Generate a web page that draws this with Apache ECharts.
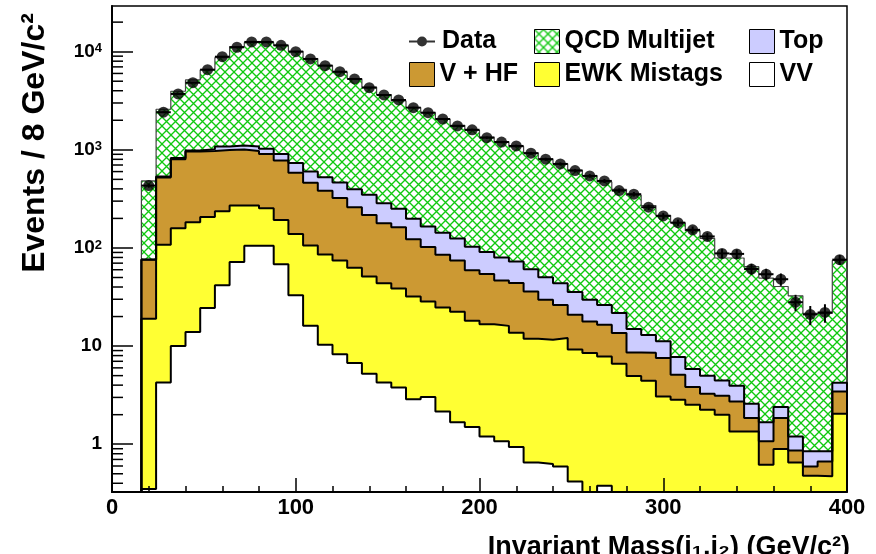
<!DOCTYPE html>
<html>
<head>
<meta charset="utf-8">
<script src="https://cdn.jsdelivr.net/npm/echarts@6/dist/echarts.min.js"></script>
<style>
  html, body { margin: 0; padding: 0; background: #ffffff; }
  #chart { width: 876px; height: 554px; }
</style>
</head>
<body>
<div id="chart"></div>
<script>
// Dijet invariant mass, 8 GeV/c^2 bins from 16 to 400 GeV/c^2
const binLow  = [16, 24, 32, 40, 48, 56, 64, 72, 80, 88, 96, 104, 112, 120, 128, 136,
                 144, 152, 160, 168, 176, 184, 192, 200, 208, 216, 224, 232, 240, 248, 256, 264,
                 272, 280, 288, 296, 304, 312, 320, 328, 336, 344, 352, 360, 368, 376, 384, 392];
const binHigh = [24, 32, 40, 48, 56, 64, 72, 80, 88, 96, 104, 112, 120, 128, 136, 144,
                 152, 160, 168, 176, 184, 192, 200, 208, 216, 224, 232, 240, 248, 256, 264, 272,
                 280, 288, 296, 304, 312, 320, 328, 336, 344, 352, 360, 368, 376, 384, 392, 400];

// Observed events and their statistical uncertainties
const dataCounts = [432, 2415, 3710, 4830, 6560, 8890, 11090, 12570, 12570, 11620, 10000, 8430, 7200, 6250, 5270, 4300,
                    3620, 3220, 2690, 2390, 2060, 1750, 1600, 1330, 1200, 1095, 923, 802, 718, 614, 542, 482,
                    384, 353, 260, 212, 181, 153, 131, 88, 87, 61, 54, 48, 28, 21, 22, 76];
const dataErrors = [20.8, 49.1, 60.9, 69.5, 81.0, 94.3, 105.3, 112.1, 112.1, 107.8, 100, 91.8, 84.9, 79.1, 72.6, 65.6,
                    60.2, 56.7, 51.9, 48.9, 45.4, 41.8, 40, 36.5, 34.6, 33.1, 30.4, 28.3, 26.8, 24.8, 23.3, 22.0,
                    19.6, 18.8, 16.1, 14.6, 13.5, 12.4, 11.4, 9.4, 9.3, 7.8, 7.3, 6.9, 5.3, 4.6, 4.7, 8.7];

// Expected yields per process (stacked bottom to top: VV, EWK, V+HF, Top, QCD)
const yieldVV  = [0.35, 4.26, 10.0, 13.9, 24.5, 41.8, 72.1, 105, 105, 68.4, 33.0, 16.1, 10.3, 8.28, 6.71, 5.22,
                  4.26, 3.79, 2.88, 3.03, 2.16, 1.67, 1.50, 1.20, 1.07, 0.935, 0.653, 0.629, 0.594, 0.418, 0, 0.378,
                  0, 0, 0, 0, 0, 0, 0, 0, 0, 0, 0, 0, 0, 0, 0, 0];
const yieldEWK = [18.6, 103.7, 149, 169.1, 182.5, 195.2, 198.9, 166, 149, 124.6, 106, 89.9, 75.3, 66.2, 56.0, 45.9,
                  39.5, 34.8, 29.1, 25.5, 22.5, 20.7, 16.6, 15.5, 15.0, 12.7, 11.2, 11.0, 11.5, 8.81, 8.49, 7.45,
                  6.60, 4.95, 4.43, 3.07, 2.84, 2.52, 2.24, 2.00, 1.35, 1.35, 0.618, 0.893, 0.653, 0.478, 0.473, 2.05];
const yieldVHF = [56.7, 413, 643, 777, 768, 761, 734, 704, 654, 583, 446, 357, 298, 248, 197, 166,
                  135, 124, 91, 73.5, 60.4, 52.1, 41.3, 37.5, 30.5, 30.2, 24.1, 18.0, 14.2, 11.6, 9.31, 8.67,
                  7.0, 3.66, 4.12, 4.48, 2.27, 1.30, 1.03, 1.12, 1.38, 0.50, 0.452, 0.957, 0.212, 0.116, 0.195, 1.40];
const yieldTop = [0.8, 14, 24, 22, 39, 82, 99, 105, 120, 132, 150, 137, 142, 141, 137, 131,
                  107, 89, 76, 63, 57.9, 50.5, 43.6, 36.6, 33.2, 28.8, 24.8, 20.8, 17.5, 14.7, 11.8, 9.8,
                  8.1, 6.29, 4.45, 3.65, 2.62, 2.01, 1.72, 1.35, 1.22, 0.73, 0.60, 0.54, 0.335, 0.255, 0.178, 0.78];
const yieldQCD = [405, 2055, 3124, 4168, 5506, 7610, 10146, 11270, 11322, 10592, 9365, 7900, 6724, 5737, 4903, 4002,
                  3364, 2898, 2501, 2215, 1907, 1655, 1477, 1259, 1130, 1007, 869, 760, 676, 585, 515, 444,
                  373, 330, 257, 204, 172, 144, 120, 74.5, 75.0, 61.9, 47.6, 38.1, 31.3, 20.7, 20.7, 70.3];

// Axis ranges, tick labels and titles
const X_MIN = 0, X_MAX = 400;
const Y_MIN = 0.326, Y_MAX = 29200;
const xTickLabels = ['0', '100', '200', '300', '400'];
const xTitle = 'Invariant Mass(j\u2081,j\u2082) (GeV/c\u00b2)';
const yTitle = 'Events / 8 GeV/c\u00b2';

const FONT = '"Liberation Sans", Arial, Helvetica, sans-serif';

// Green cross-hatch used for the QCD multijet component
const hatch = document.createElement('canvas');
hatch.width = 9; hatch.height = 9;
(function () {
  const g = hatch.getContext('2d');
  g.strokeStyle = '#10c810';
  g.lineWidth = 1.35;
  g.beginPath();
  g.moveTo(-1, -1); g.lineTo(10, 10);
  g.moveTo(10, -1); g.lineTo(-1, 10);
  g.stroke();
})();
const hatchFill = { image: hatch, repeat: 'repeat' };

const layers = [
  { name: 'VV',           values: yieldVV,  fill: '#ffffff', stroke: '#000000', width: 2 },
  { name: 'EWK Mistags',  values: yieldEWK, fill: '#ffff33', stroke: '#000000', width: 2 },
  { name: 'V + HF',       values: yieldVHF, fill: '#cc9933', stroke: '#000000', width: 2 },
  { name: 'Top',          values: yieldTop, fill: '#ccccff', stroke: '#000000', width: 2 },
  { name: 'QCD Multijet', values: yieldQCD, fill: hatchFill, stroke: '#444444', width: 1.2 }
];

// Running sums: each layer is drawn as the cumulative histogram from the axis floor
let running = binLow.map(() => 0);
layers.forEach(l => {
  running = running.map((r, i) => r + l.values[i]);
  l.cum = running;
});

const floorOf = v => Math.max(v, Y_MIN);

function stepSeries(layer) {
  const pts = [[binLow[0], Y_MIN]];
  binLow.forEach((x, i) => pts.push([x, floorOf(layer.cum[i])]));
  const last = binLow.length - 1;
  pts.push([binHigh[last], floorOf(layer.cum[last])]);
  pts.push([binHigh[last], Y_MIN]);
  return {
    name: layer.name,
    type: 'line',
    step: 'end',
    data: pts,
    symbol: 'none',
    silent: true,
    z: 2,
    itemStyle: { color: layer.fill },
    lineStyle: { color: layer.stroke, width: layer.width },
    areaStyle: { color: layer.fill, opacity: 1, origin: 'start' }
  };
}

// Stacked histograms drawn from the largest sum down
const histSeries = layers.slice().reverse().map(stepSeries);

// Minor ticks of the log axis (2..9 per decade)
const yMinorTicks = [];
for (let e = -1; e <= 4; e++) {
  for (let m = 2; m <= 9; m++) {
    const v = m * Math.pow(10, e);
    if (v > Y_MIN && v < Y_MAX) yMinorTicks.push([X_MIN, v]);
  }
}

const errorSeries = {
  name: 'Data errors',
  type: 'custom',
  z: 4,
  silent: true,
  encode: { x: [0, 1, 2], y: [3] },
  data: binLow.map((lo, i) => [lo, binHigh[i], (lo + binHigh[i]) / 2, dataCounts[i], dataErrors[i]]),
  renderItem: function (params, api) {
    const lo = api.value(0), hi = api.value(1), xc = api.value(2), y = api.value(3), err = api.value(4);
    const a = api.coord([lo, y]), b = api.coord([hi, y]);
    const up = api.coord([xc, y + err]), dn = api.coord([xc, Math.max(y - err, Y_MIN)]);
    const style = { stroke: '#000', lineWidth: 2 };
    return {
      type: 'group',
      children: [
        { type: 'line', shape: { x1: a[0], y1: a[1], x2: b[0], y2: b[1] }, style },
        { type: 'line', shape: { x1: up[0], y1: up[1], x2: dn[0], y2: dn[1] }, style }
      ]
    };
  }
};

const dataSeries = {
  name: 'Data',
  type: 'scatter',
  z: 5,
  symbol: 'circle',
  symbolSize: 11,
  itemStyle: { color: '#000000' },
  data: binLow.map((lo, i) => [(lo + binHigh[i]) / 2, dataCounts[i]])
};

const minorTickSeries = {
  name: 'minor ticks',
  type: 'custom',
  z: 6,
  silent: true,
  encode: { x: 0, y: 1 },
  data: yMinorTicks,
  renderItem: function (params, api) {
    const p = api.coord([api.value(0), api.value(1)]);
    return { type: 'line', shape: { x1: p[0], y1: p[1], x2: p[0] + 11, y2: p[1] },
             style: { stroke: '#000', lineWidth: 1.5 } };
  }
};

const legendText = { fontFamily: FONT, fontWeight: 'bold', fontSize: 25, color: '#000' };
function boxLegend(name, fill, left, top) {
  return {
    data: [{ name: name, icon: 'rect', itemStyle: { color: fill, borderColor: '#000', borderWidth: 1 } }],
    left: left, top: top, padding: 0, itemWidth: 25, itemHeight: 24,
    selectedMode: false, textStyle: legendText
  };
}

const chart = echarts.init(document.getElementById('chart'), null, { renderer: 'canvas' });
chart.setOption({
  animation: false,
  backgroundColor: '#ffffff',
  grid: { left: 112, right: 29, top: 6, bottom: 62, containLabel: false, outerBoundsMode: 'none',
          show: true, borderColor: '#000', borderWidth: 1.5, backgroundColor: 'transparent' },
  xAxis: {
    type: 'value',
    min: X_MIN, max: X_MAX, interval: 100,
    z: 5,
    axisLine: { show: true, lineStyle: { color: '#000', width: 2 } },
    axisTick: { show: true, inside: true, length: 14, lineStyle: { color: '#000', width: 1.5 } },
    minorTick: { show: true, splitNumber: 5, length: 6, lineStyle: { color: '#000', width: 1.5 } },
    splitLine: { show: false },
    axisLabel: {
      margin: 5, fontFamily: FONT, fontWeight: 'bold', fontSize: 22, color: '#000',
      formatter: v => xTickLabels[Math.round(v / 100)] || ''
    }
  },
  yAxis: {
    type: 'log',
    logBase: 10,
    min: Y_MIN, max: Y_MAX,
    z: 5,
    axisLine: { show: true, lineStyle: { color: '#000', width: 2 } },
    axisTick: { show: true, inside: true, length: 21, lineStyle: { color: '#000', width: 1.5 } },
    splitLine: { show: false },
    axisLabel: {
      margin: 10, showMinLabel: false, showMaxLabel: false,
      fontFamily: FONT, fontWeight: 'bold', fontSize: 19, color: '#000',
      formatter: function (v) {
        const lg = Math.log10(v), e = Math.round(lg);
        if (Math.abs(lg - e) > 1e-6) return '';
        if (e === 0) return '1';
        if (e === 1) return '10';
        return '{b|10}{s|' + e + '}';
      },
      rich: {
        b: { fontFamily: FONT, fontWeight: 'bold', fontSize: 19, color: '#000' },
        s: { fontFamily: FONT, fontWeight: 'bold', fontSize: 13, color: '#000', verticalAlign: 'top' }
      }
    }
  },
  graphic: [
    { type: 'text', x: 35, y: 143, rotation: Math.PI / 2, z: 10,
      style: { text: yTitle, fill: '#000', font: 'bold 32px ' + FONT, textAlign: 'center', textVerticalAlign: 'middle' } },
    { type: 'text', x: 850, y: 534, z: 10,
      style: { text: xTitle, fill: '#000', font: 'bold 27px ' + FONT, textAlign: 'right', textVerticalAlign: 'top' } }
  ],
  legend: [
    { data: [{ name: 'Data', icon: 'path://M0,4H26V6H0Z M8,5A5,5,0,1,1,18,5A5,5,0,1,1,8,5Z', itemStyle: { color: '#000' } }],
      left: 409, top: 29, padding: 0, itemWidth: 26, itemHeight: 10, selectedMode: false,
      textStyle: Object.assign({ padding: [0, 0, 0, 2] }, legendText) },
    boxLegend('V + HF', '#cc9933', 409, 62),
    boxLegend('QCD Multijet', hatchFill, 534, 29),
    boxLegend('EWK Mistags', '#ffff33', 534, 62),
    boxLegend('Top', '#ccccff', 749, 29),
    boxLegend('VV', '#ffffff', 749, 62)
  ],
  series: histSeries.concat([errorSeries, dataSeries, minorTickSeries])
});
</script>
</body>
</html>
